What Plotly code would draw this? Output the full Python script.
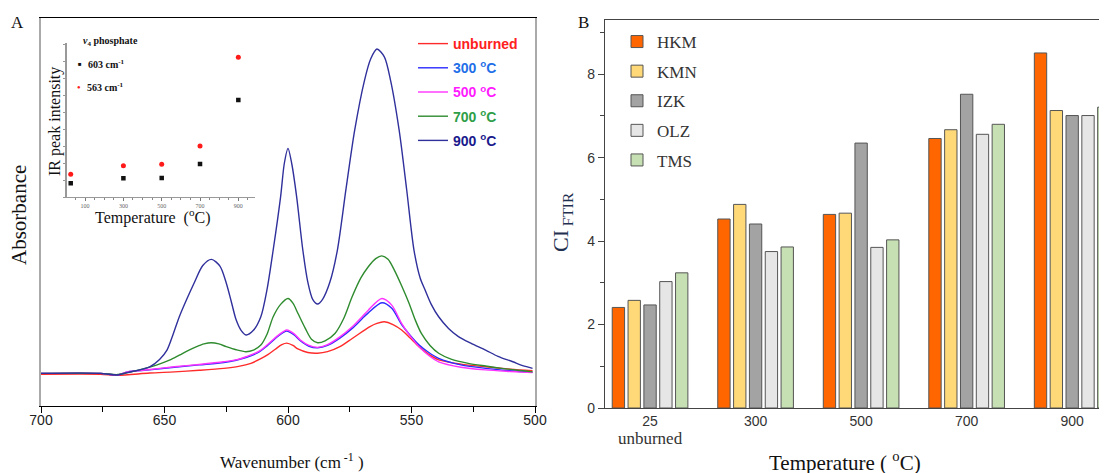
import plotly.graph_objects as go

W, H = 1107, 473
OFF = 8  # page body margin of the written html


def fx(p):
    return (p - OFF) / W


def fy(p):
    return 1 - (p - OFF) / H


# ---------------- Panel A: FTIR spectra (wavenumber, absorbance a.u.) ----------------
wn_unburned = [700, 676, 669, 656, 646, 636, 626, 620, 615, 611, 608, 605, 602.5, 600.5, 598, 596, 592, 588, 584, 579, 574, 567, 564, 561, 557.5, 554, 550.5, 547, 543, 539, 530, 520, 510, 501]
abs_unburned = [0.082, 0.082, 0.079, 0.085, 0.088, 0.092, 0.097, 0.102, 0.110, 0.122, 0.133, 0.147, 0.158, 0.162, 0.156, 0.147, 0.138, 0.136, 0.140, 0.153, 0.174, 0.204, 0.213, 0.217, 0.210, 0.196, 0.175, 0.153, 0.133, 0.119, 0.108, 0.101, 0.095, 0.091]

wn_300 = [700, 676, 669, 665, 656, 646, 636, 626, 621, 617, 612, 608.5, 604, 600.5, 597.5, 595, 591.5, 588, 584, 579, 574, 570, 567.5, 562, 558, 554, 550.5, 547, 543, 539, 530, 520, 510, 501]
abs_300 = [0.084, 0.084, 0.080, 0.088, 0.093, 0.100, 0.106, 0.112, 0.118, 0.125, 0.138, 0.155, 0.180, 0.193, 0.183, 0.168, 0.154, 0.150, 0.156, 0.175, 0.200, 0.225, 0.240, 0.266, 0.252, 0.210, 0.182, 0.158, 0.138, 0.123, 0.106, 0.097, 0.091, 0.087]

wn_500 = [700, 676, 669, 665, 656, 646, 636, 626, 621, 617, 612, 608.5, 604, 600.5, 597.5, 595, 591.5, 588, 584, 579, 574, 570, 567.5, 562, 558, 554, 550.5, 547, 543, 539, 530, 520, 510, 501]
abs_500 = [0.084, 0.084, 0.080, 0.088, 0.094, 0.101, 0.107, 0.114, 0.119, 0.127, 0.140, 0.157, 0.182, 0.196, 0.186, 0.170, 0.156, 0.151, 0.158, 0.178, 0.204, 0.230, 0.247, 0.277, 0.260, 0.213, 0.180, 0.153, 0.130, 0.114, 0.100, 0.093, 0.089, 0.086]

wn_700 = [700, 676, 669, 665, 659, 653, 648, 644, 640.5, 637, 634, 631, 628, 625, 621, 617, 614, 611, 608.5, 606, 603, 600, 598, 596, 593, 590.5, 588, 585, 581, 577.5, 574, 570.5, 567.5, 564.5, 562, 559.5, 557, 554, 551, 548.5, 546, 542.5, 539, 534, 527, 520, 513.5, 507, 501]
abs_700 = [0.084, 0.084, 0.081, 0.086, 0.095, 0.106, 0.118, 0.131, 0.143, 0.153, 0.160, 0.163, 0.160, 0.153, 0.145, 0.140, 0.144, 0.157, 0.185, 0.230, 0.262, 0.277, 0.265, 0.239, 0.200, 0.172, 0.163, 0.168, 0.187, 0.225, 0.282, 0.330, 0.359, 0.380, 0.387, 0.378, 0.351, 0.310, 0.265, 0.222, 0.187, 0.156, 0.136, 0.121, 0.110, 0.103, 0.097, 0.092, 0.088]

wn_900 = [700, 676, 669, 665, 656, 652, 649, 646.5, 644, 641, 638, 634.5, 631, 627.5, 625, 623, 621, 619, 617, 614, 611, 608.5, 606, 603, 601.5, 600, 598.5, 596.5, 594, 592, 590, 588, 586, 583, 580, 576.5, 573, 569, 566.5, 564, 561, 558.5, 555, 552, 549, 546.5, 544.5, 542, 539, 535, 531, 526, 520, 515, 509, 505, 501]
abs_900 = [0.084, 0.084, 0.080, 0.086, 0.101, 0.120, 0.144, 0.185, 0.230, 0.275, 0.317, 0.362, 0.378, 0.360, 0.317, 0.270, 0.222, 0.195, 0.183, 0.195, 0.230, 0.300, 0.402, 0.539, 0.625, 0.664, 0.625, 0.539, 0.402, 0.320, 0.275, 0.263, 0.275, 0.320, 0.402, 0.560, 0.711, 0.840, 0.895, 0.920, 0.900, 0.840, 0.711, 0.560, 0.402, 0.330, 0.299, 0.262, 0.230, 0.200, 0.179, 0.162, 0.144, 0.128, 0.114, 0.104, 0.097]

spectra_names = ["unburned", "300 <sup>o</sup>C", "500 <sup>o</sup>C", "700 <sup>o</sup>C", "900 <sup>o</sup>C"]
spectra_x = [wn_unburned, wn_300, wn_500, wn_700, wn_900]
spectra_y = [abs_unburned, abs_300, abs_500, abs_700, abs_900]
line_colors = ["#ff2a2a", "#2b2bff", "#ff33ff", "#2e8b2e", "#30309c"]
label_colors = ["#ff2020", "#1f6fe8", "#ff1aff", "#2e9e48", "#1a1a8c"]

# ---------------- Inset: IR peak intensity vs temperature ----------------
inset_temp = [25, 300, 500, 700, 900]
inset_603 = [13.7, 18.7, 19.0, 33.0, 97.0]
inset_563 = [22.7, 31.3, 32.7, 51.0, 139.7]

# ---------------- Panel B: crystallinity index ----------------
temps_B = ["25", "300", "500", "700", "900"]
ticks_B = ["25<br><span style='font-family:Liberation Serif;font-size:17px'>unburned</span>", "300", "500", "700", "900"]
sites_B = ["HKM", "KMN", "IZK", "OLZ", "TMS"]
ci_HKM = [2.41, 4.53, 4.64, 6.46, 8.51]
ci_KMN = [2.58, 4.88, 4.67, 6.67, 7.13]
ci_IZK = [2.47, 4.41, 6.35, 7.52, 7.01]
ci_OLZ = [3.03, 3.75, 3.85, 6.56, 7.01]
ci_TMS = [3.24, 3.86, 4.03, 6.80, 7.21]
ci_values = [ci_HKM, ci_KMN, ci_IZK, ci_OLZ, ci_TMS]
bar_colors = ["#ff6600", "#ffd978", "#a3a3a3", "#e6e6e6", "#c6e0b4"]

fig = go.Figure()

for name, xs, ys, lc, tc in zip(spectra_names, spectra_x, spectra_y, line_colors, label_colors):
    fig.add_trace(go.Scatter(
        x=xs, y=ys, mode="lines", line=dict(color=lc, width=1.4, shape="spline", smoothing=0.8),
        name=f"<span style='color:{tc}'><b>{name}</b></span>", legend="legend", legendgroup=name,
        xaxis="x", yaxis="y"))

fig.add_trace(go.Scatter(x=inset_temp, y=inset_563, mode="markers",
                         marker=dict(symbol="circle", size=5, color="#ff1a1a"),
                         showlegend=False, xaxis="x3", yaxis="y3"))
fig.add_trace(go.Scatter(x=inset_temp, y=inset_603, mode="markers",
                         marker=dict(symbol="square", size=4.5, color="#111111"),
                         showlegend=False, xaxis="x3", yaxis="y3"))

for site, vals, col in zip(sites_B, ci_values, bar_colors):
    fig.add_trace(go.Bar(x=temps_B, y=vals, name=site, legend="legend2", legendgroup=site,
                         marker=dict(color=col, line=dict(color="#555555", width=1)),
                         xaxis="x2", yaxis="y2"))

serif = "Liberation Serif"
sans = "Liberation Sans"

fig.update_layout(
    width=W, height=H, autosize=False,
    margin=dict(l=0, r=0, t=0, b=0, pad=0, autoexpand=False),
    paper_bgcolor="white", plot_bgcolor="rgba(0,0,0,0)",
    barmode="group", bargap=0.25, bargroupgap=0.22,
    showlegend=True,
    xaxis=dict(domain=[fx(41), fx(535)], anchor="y", range=[700, 500], automargin=False,
               tickvals=[700, 650, 600, 550, 500], ticks="outside", ticklen=6, tickwidth=1.2,
               tickcolor="black", showline=True, linecolor="black", linewidth=1.2, mirror=True,
               showgrid=False, zeroline=False, ticklabelstandoff=-5,
               minor=dict(dtick=25, ticks="outside", ticklen=5, tickcolor="black"),
               tickfont=dict(family=sans, size=14, color="#222")),
    yaxis=dict(domain=[fy(406), fy(18)], anchor="x", range=[0, 1], automargin=False,
               showticklabels=False, ticks="", showline=True, linecolor="#aaaaaa", linewidth=1.5,
               mirror=True, showgrid=False, zeroline=False),
    xaxis2=dict(domain=[fx(605), fx(1107)], anchor="y2", type="category", range=[-0.427, 4.33],
                automargin=False,
                tickvals=temps_B, ticktext=ticks_B, ticks="", showline=True, linecolor="#444",
                linewidth=1.3, mirror=True, showgrid=False, zeroline=False,
                tickfont=dict(family=sans, size=14, color="#333")),
    yaxis2=dict(domain=[fy(408), fy(20)], anchor="x2", range=[0, 9.3], automargin=False,
                tickvals=[0, 2, 4, 6, 8], ticks="outside", ticklen=6, tickcolor="#444",
                showline=True, linecolor="#444", linewidth=1.3, showgrid=False, zeroline=False,
                minor=dict(tickvals=[1, 3, 5, 7, 9], ticks="outside", ticklen=4, tickcolor="#444"),
                tickfont=dict(family=sans, size=14, color="#333")),
    xaxis3=dict(domain=[fx(66.7), fx(255)], anchor="y3", range=[4, 987], automargin=False,
                tickvals=[100, 300, 500, 700, 900], ticks="outside", ticklen=3, tickcolor="#777",
                showline=True, linecolor="#999", linewidth=1, showgrid=False, zeroline=False,
                minor=dict(dtick=50, ticks="outside", ticklen=2, tickcolor="#888"),
                tickfont=dict(family=serif, size=6, color="#666")),
    yaxis3=dict(domain=[fy(197), fy(43)], anchor="x3", range=[0, 154], automargin=False,
                showticklabels=False, ticks="outside", ticklen=2, tickcolor="#999", dtick=17,
                showline=True, linecolor="#999", linewidth=1.5, showgrid=False, zeroline=False),
    legend=dict(x=fx(413), y=fy(28), xanchor="left", yanchor="top", itemwidth=30,
                font=dict(family=sans, size=14), tracegroupgap=3, bgcolor="rgba(0,0,0,0)",
                borderwidth=0),
    legend2=dict(x=fx(617), y=fy(24), xanchor="left", yanchor="top", itemwidth=30,
                 font=dict(family=serif, size=17, color="#333"), tracegroupgap=4.5,
                 bgcolor="rgba(0,0,0,0)", borderwidth=0),
)

annotations = [
    dict(text="A", x=fx(17), y=fy(22), font=dict(family=serif, size=17, color="#111")),
    dict(text="B", x=fx(583), y=fy(22), font=dict(family=serif, size=17, color="#111")),
    dict(text="Wavenumber (cm<sup> -1</sup> )", x=fx(292), y=fy(461),
         font=dict(family=serif, size=17, color="#111")),
    dict(text="Absorbance", x=fx(19), y=fy(215), textangle=-90,
         font=dict(family=serif, size=21, color="#111")),
    dict(text="Temperature ( <sup>o</sup>C)", x=fx(845), y=fy(461),
         font=dict(family=serif, size=21, color="#111")),
    dict(text="CI<sub> FTIR</sub>", x=fx(562), y=fy(222), textangle=-90,
         font=dict(family=serif, size=22, color="#1f3050")),
    dict(text="<b><i>v</i><sub>4</sub> phosphate</b>", x=fx(81), y=fy(41), xanchor="left",
         font=dict(family=serif, size=10, color="#111")),
    dict(text="<span style='color:#111'>■</span>", x=fx(80), y=fy(64),
         font=dict(family=sans, size=6)),
    dict(text="<b>603 cm<sup>-1</sup></b>", x=fx(86), y=fy(64), xanchor="left",
         font=dict(family=serif, size=10, color="#111")),
    dict(text="<span style='color:#ff1a1a'>●</span>", x=fx(79), y=fy(87),
         font=dict(family=sans, size=6)),
    dict(text="<b>563 cm<sup>-1</sup></b>", x=fx(85), y=fy(87), xanchor="left",
         font=dict(family=serif, size=10, color="#111")),
    dict(text="IR peak intensity", x=fx(55), y=fy(122), textangle=-90,
         font=dict(family=serif, size=16, color="#111")),
    dict(text="Temperature  (<sup>o</sup>C)", x=fx(153), y=fy(216),
         font=dict(family=serif, size=16, color="#111")),
]
for a in annotations:
    a.setdefault("xanchor", "center")
    a.update(xref="paper", yref="paper", yanchor="middle", showarrow=False)
fig.update_layout(annotations=annotations)

fig.write_html("out.html")
